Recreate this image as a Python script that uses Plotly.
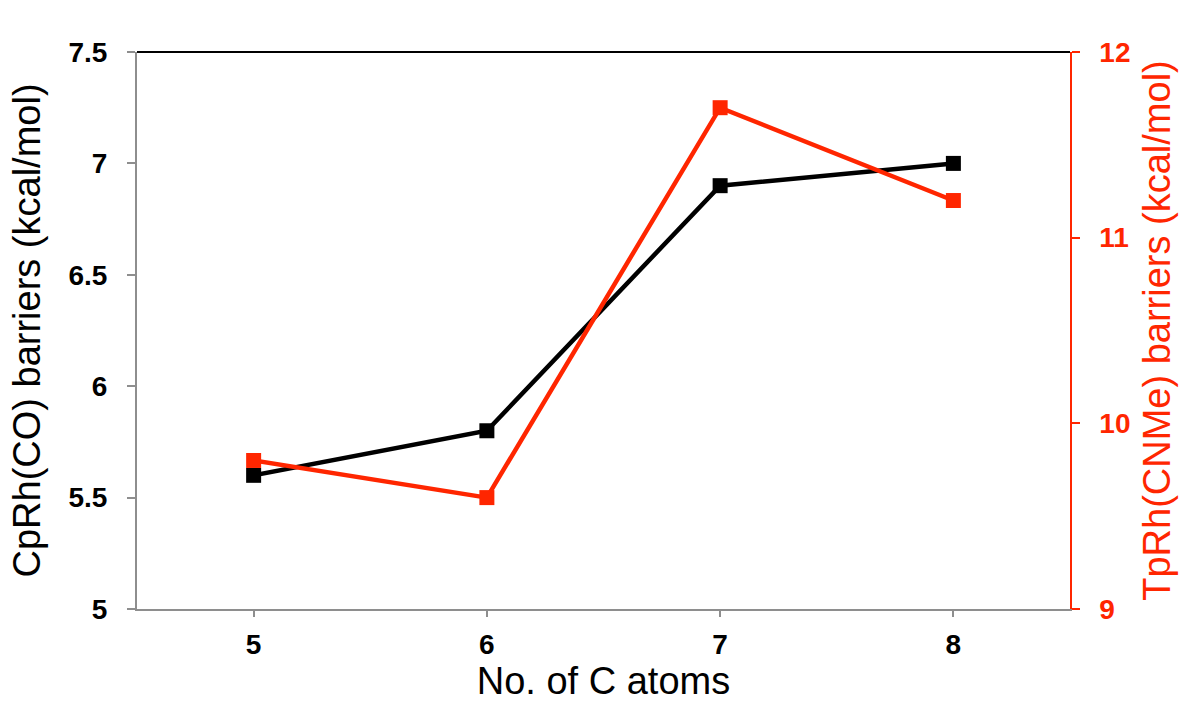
import plotly.graph_objects as go

carbons = [5, 6, 7, 8]
cprh_co = [5.6, 5.8, 6.9, 7.0]
tprh_cnme = [9.8, 9.6, 11.7, 11.2]

left_ticks = [5, 5.5, 6, 6.5, 7, 7.5]
left_ticklabels = ["5", "5.5", "6", "6.5", "7", "7.5"]
right_ticks = [9, 10, 11, 12]
x_ticks = [5, 6, 7, 8]

RED = "rgb(255,38,0)"
GRAY = "#8e8e8e"
FONT = "Liberation Sans, Arial, Helvetica, sans-serif"

fig = go.Figure()
fig.add_trace(go.Scatter(
    x=carbons, y=cprh_co, mode="lines+markers", name="CpRh(CO)",
    line=dict(color="black", width=4.5),
    marker=dict(symbol="square", size=15, color="black"),
    yaxis="y", showlegend=False,
))
fig.add_trace(go.Scatter(
    x=carbons, y=tprh_cnme, mode="lines+markers", name="TpRh(CNMe)",
    line=dict(color=RED, width=4.5),
    marker=dict(symbol="square", size=15, color=RED),
    yaxis="y2", showlegend=False,
))

fig.update_layout(
    width=1184, height=704,
    margin=dict(l=137, r=114, t=52, b=95),
    paper_bgcolor="white", plot_bgcolor="white",
    font=dict(family=FONT, color="black"),
    xaxis=dict(
        range=[4.5, 8.5], tickvals=x_ticks, ticktext=[str(v) for v in x_ticks],
        showgrid=False, zeroline=False, automargin=False,
        showline=True, linecolor=GRAY, linewidth=2,
        ticks="outside", ticklen=6, tickcolor=GRAY, tickwidth=1.5,
        ticklabelstandoff=3,
        tickfont=dict(size=28, family=FONT, weight="bold", color="black"),
        title=dict(text="No. of C atoms", font=dict(size=38, family=FONT, color="black"), standoff=4),
    ),
    yaxis=dict(
        range=[5, 7.5], tickvals=left_ticks, ticktext=left_ticklabels,
        showgrid=False, zeroline=False, automargin=False,
        showline=True, linecolor=GRAY, linewidth=2,
        ticks="outside", ticklen=8, tickcolor=GRAY, tickwidth=1.5,
        ticklabelstandoff=14,
        tickfont=dict(size=28, family=FONT, weight="bold", color="black"),
        title=dict(text="CpRh(CO) barriers (kcal/mol)", font=dict(size=38, family=FONT, color="black"), standoff=16),
    ),
    yaxis2=dict(
        range=[9, 12], tickvals=right_ticks, ticktext=[str(v) for v in right_ticks],
        overlaying="y", side="right", automargin=False,
        showgrid=False, zeroline=False,
        showline=True, linecolor=RED, linewidth=1.5,
        ticks="outside", ticklen=8, tickcolor=RED, tickwidth=1.5,
        ticklabelstandoff=14,
        tickfont=dict(size=28, family=FONT, weight="bold", color=RED),
        title=dict(text="TpRh(CNMe) barriers (kcal/mol)", font=dict(size=38, family=FONT, color=RED), standoff=14),
    ),
    shapes=[dict(type="line", xref="paper", yref="paper", x0=0, x1=1, y0=1, y1=1,
                 line=dict(color="black", width=2))],
)

fig.write_html("out.html")
